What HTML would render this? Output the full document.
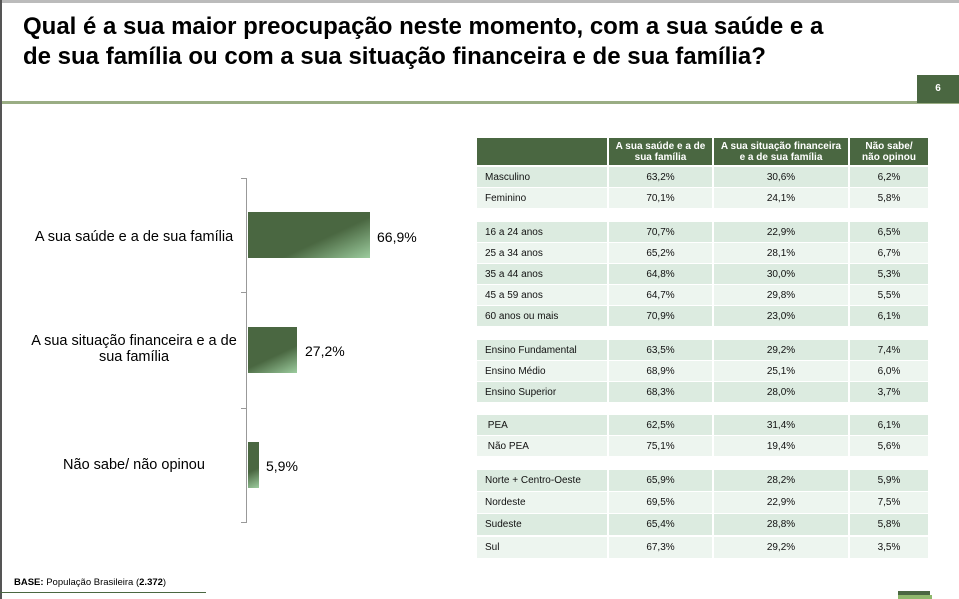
<!DOCTYPE html>
<html><head><meta charset="utf-8"><style>
body{margin:0;width:959px;height:599px;position:relative;overflow:hidden;background:#fff;font-family:"Liberation Sans",sans-serif;}
.a{position:absolute;}
.t{left:23px;top:12px;font-size:24px;font-weight:bold;line-height:30px;color:#000;white-space:nowrap;}
.c{position:absolute;font-size:10px;color:#111;display:flex;align-items:center;justify-content:center;box-sizing:border-box;}
.l{justify-content:flex-start;padding-left:8px;}
.h{background:#4a6741;color:#fff;font-weight:bold;line-height:11px;text-align:center;}
.lab{position:absolute;font-size:14px;color:#000;text-align:center;line-height:16px;}
.cat{font-size:14.5px;}
.bar{position:absolute;left:248px;background:linear-gradient(155deg,#4a6741 0%,#4a6741 60%,#9ccc9e 100%);}
</style></head><body>
<div class="a" style="left:0;top:0;width:959px;height:3px;background:#bbb"></div>
<div class="a" style="left:0;top:0;width:2px;height:599px;background:#555"></div>
<div class="a t">Qual é a sua maior preocupação neste momento, com a sua saúde e a<br>de sua família ou com a sua situação financeira e de sua família?</div>
<div class="a" style="left:2px;top:101px;width:957px;height:3px;background:#9aad84"></div>
<div class="a" style="left:917px;top:75px;width:42px;height:28px;background:#4a6741;color:#fff;font-size:10px;font-weight:bold;text-align:center;line-height:28px">6</div>

<div class="a" style="left:246px;top:178px;width:1px;height:344px;background:#999"></div>
<div class="a" style="left:241px;top:178px;width:6px;height:1px;background:#999"></div>
<div class="a" style="left:241px;top:292px;width:6px;height:1px;background:#999"></div>
<div class="a" style="left:241px;top:408px;width:6px;height:1px;background:#999"></div>
<div class="a" style="left:241px;top:522px;width:6px;height:1px;background:#999"></div>
<div class="bar" style="top:212px;width:122px;height:46px"></div>
<div class="bar" style="top:327px;width:49px;height:46px"></div>
<div class="bar" style="top:442px;width:11px;height:46px"></div>
<div class="lab cat" style="left:24px;width:220px;top:229px">A sua saúde e a de sua família</div>
<div class="lab cat" style="left:20px;width:228px;top:333px">A sua situação financeira e a de<br>sua família</div>
<div class="lab cat" style="left:24px;width:220px;top:457px">Não sabe/ não opinou</div>
<div class="lab" style="left:377px;top:229px">66,9%</div>
<div class="lab" style="left:305px;top:343px">27,2%</div>
<div class="lab" style="left:266px;top:458px">5,9%</div>

<div class="c h" style="left:477px;top:138px;width:130px;height:27px"></div>
<div class="c h" style="left:609px;top:138px;width:103px;height:27px">A sua saúde e a de<br>sua família</div>
<div class="c h" style="left:714px;top:138px;width:134px;height:27px">A sua situação financeira<br>e a de sua família</div>
<div class="c h" style="left:850px;top:138px;width:78px;height:27px">Não sabe/<br>não opinou</div>
<div id="rows"></div>
<script>
var R=[["Masculino","63,2%","30,6%","6,2%",167,20],["Feminino","70,1%","24,1%","5,8%",188,20],
["16 a 24 anos","70,7%","22,9%","6,5%",222,20],["25 a 34 anos","65,2%","28,1%","6,7%",243,20],["35 a 44 anos","64,8%","30,0%","5,3%",264,20],["45 a 59 anos","64,7%","29,8%","5,5%",285,20],["60 anos ou mais","70,9%","23,0%","6,1%",306,20],
["Ensino Fundamental","63,5%","29,2%","7,4%",340,20],["Ensino Médio","68,9%","25,1%","6,0%",361,20],["Ensino Superior","68,3%","28,0%","3,7%",382,20],
[" PEA","62,5%","31,4%","6,1%",415,20],[" Não PEA","75,1%","19,4%","5,6%",436,20],
["Norte + Centro-Oeste","65,9%","28,2%","5,9%",470,21],["Nordeste","69,5%","22,9%","7,5%",492,21],["Sudeste","65,4%","28,8%","5,8%",514,21],["Sul","67,3%","29,2%","3,5%",537,21]];
var X=[[477,130],[609,103],[714,134],[850,78]],h="",alt=[0,1,0,1,0,1,0,0,1,0,0,1,0,1,0,1];
R.forEach(function(r,i){var bg=alt[i]?"#edf5ef":"#dcebe0";for(var j=0;j<4;j++){h+='<div class="c'+(j==0?' l':'')+'" style="left:'+X[j][0]+'px;top:'+r[4]+'px;width:'+X[j][1]+'px;height:'+r[5]+'px;background:'+bg+'">'+r[j].replace(/^ /,'&nbsp;')+'</div>';}});
document.getElementById("rows").innerHTML=h;
</script>
<div class="a" style="left:0;top:592px;width:206px;height:1px;background:#4a6741"></div>
<div class="a" style="left:14px;top:577px;font-size:9.5px;color:#000"><b>BASE:</b> População Brasileira (<b>2.372</b>)</div>
<div class="a" style="left:898px;top:591px;width:32px;height:4px;background:#4a6741"></div>
<div class="a" style="left:898px;top:595px;width:34px;height:4px;background:#8fb86c"></div>
</body></html>
